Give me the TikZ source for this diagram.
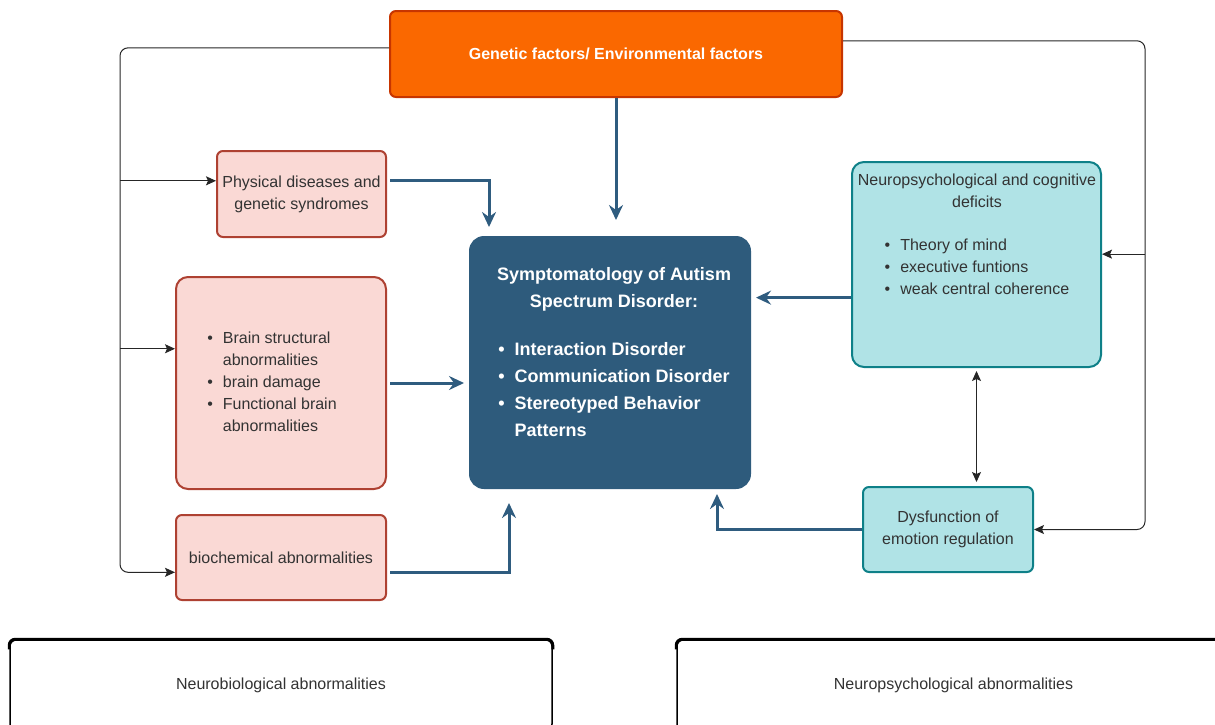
\documentclass[tikz,border=0pt]{standalone}
\usepackage{fontspec}
\setmainfont{Liberation Sans}
\usepackage{tikz}
\usetikzlibrary{calc}
\usetikzlibrary{arrows.meta}
\definecolor{genfill}{HTML}{FA6800}
\definecolor{gendraw}{HTML}{C73500}
\definecolor{bioFill}{HTML}{FAD9D5}
\definecolor{bioDraw}{HTML}{AE4132}
\definecolor{psyFill}{HTML}{B0E3E6}
\definecolor{psyDraw}{HTML}{0E8088}
\definecolor{symFill}{HTML}{2E5B7C}
\definecolor{arrBlue}{HTML}{2F5C7F}
\newcommand{\itemlist}[1]{\begin{tabular}{@{}l@{\hspace{10pt}}l@{}}#1\end{tabular}}
\newcommand{\bul}{\textbullet}

\begin{document}
\begin{tikzpicture}[x=1pt,y=-1pt,
    box/.style={draw, line width=2pt, rounded corners=6pt, inner sep=0pt, align=center,
                font=\fontsize{16}{22}\selectfont, text=black!80},
    genbox/.style={box, fill=genfill, draw=gendraw, text=white, font=\bfseries\fontsize{16}{22}\selectfont},
    biobox/.style={box, fill=bioFill, draw=bioDraw},
    psybox/.style={box, fill=psyFill, draw=psyDraw},
    symbox/.style={box, fill=symFill, draw=symFill, rounded corners=14pt},
    groupbox/.style={draw, line width=1.5pt, rounded corners=6pt, fill=white, inner sep=0pt,
                font=\fontsize{16}{22}\selectfont, text=black!80},
    boxtext/.style={align=center, inner sep=0pt, text=black!80, font=\fontsize{16}{22}\selectfont},
    thinarr/.style={draw=black!85, line width=1pt, rounded corners=8pt, -{Stealth[length=10pt,width=9pt,inset=2pt]}},
    bluearr/.style={draw=arrBlue, line width=3pt, -{Stealth[length=15pt,width=14pt,inset=5pt]}}]
    \useasboundingbox (0,0) rectangle (1215,724);

    % top
    \node[genbox, minimum width=452pt, minimum height=86pt] (gen) at (616,54) {Genetic factors/ Environmental factors};

    % left column
    \node[biobox, minimum width=169pt, minimum height=86pt] (phys) at (301.5,194) {Physical diseases and\\genetic syndromes};
    \node[biobox, rounded corners=12pt, minimum width=210pt, minimum height=212pt] (brain) at (281,383) {};
    \node[boxtext] (braintext) at (272,383)
        {\itemlist{\bul & Brain structural\\ & abnormalities\\ \bul & brain damage\\ \bul & Functional brain\\ & abnormalities}};
    \node[biobox, minimum width=210pt, minimum height=85pt] (bio) at (281,557.5) {biochemical abnormalities};

    % centre
    \node[symbox, minimum width=280pt, minimum height=251pt] (sym) at (610,362.5) {};
    \node[align=center, text=white, font=\bfseries\fontsize{18}{27}\selectfont] (symtext) at (614,356)
        {Symptomatology of Autism\\Spectrum Disorder:\\[24pt]
         \itemlist{\bul & Interaction Disorder\\ \bul & Communication Disorder\\ \bul & Stereotyped Behavior\\ & Patterns}};

    % right column
    \node[psybox, rounded corners=12pt, minimum width=249pt, minimum height=205pt] (neuro) at (976.5,264.5) {};
    \node[boxtext, anchor=north] (neurotext) at (977,174)
        {Neuropsychological and cognitive\\deficits\\[26pt]
         \itemlist{\bul & Theory of mind\\ \bul & executive funtions\\ \bul & weak central coherence}};
    \node[psybox, minimum width=170pt, minimum height=85pt] (dys) at (948,529.5) {Dysfunction of\\emotion regulation};

    % bottom
    \node[groupbox, minimum width=542pt, minimum height=90pt] (nbio) at (281,685) {Neurobiological abnormalities};
    \draw[line width=3pt, rounded corners=6pt] ($(nbio.north west)+(0,10)$) -- (nbio.north west) -- (nbio.north east) -- ($(nbio.north east)+(0,10)$);
    \node[groupbox, minimum width=553pt, minimum height=90pt] (npsy) at (953.5,685) {Neuropsychological abnormalities};
    \draw[line width=3pt, rounded corners=6pt] ($(npsy.north west)+(0,10)$) -- (npsy.north west) -- (npsy.north east) -- ($(npsy.north east)+(0,10)$);

    % thin rails
    \coordinate (lrail) at (120,0);
    \coordinate (rrail) at (1145,0);
    \coordinate (physin) at ($(phys.north west)!0.35!(phys.south west)$);
    \coordinate (brainin) at ($(brain.north west)!0.34!(brain.south west)$);
    \coordinate (bioin) at ($(bio.north west)!0.67!(bio.south west)$);
    \coordinate (neuroin) at ($(neuro.north east)!0.45!(neuro.south east)$);
    \draw[thinarr] ($(gen.north west)!0.43!(gen.south west)$) -| (lrail |- bioin) -- (bioin);
    \draw[thinarr] (lrail |- physin) -- (physin);
    \draw[thinarr] (lrail |- brainin) -- (brainin);
    \draw[thinarr] ($(gen.north east)!0.35!(gen.south east)$) -| (rrail |- dys.east) -- (dys.east);
    \draw[thinarr] (rrail |- neuroin) -- (neuroin);
    \draw[draw=black!85, line width=1pt, {Stealth[length=10pt,width=9pt,inset=2pt]}-{Stealth[length=10pt,width=9pt,inset=2pt]}, shorten <=3pt, shorten >=4pt]
        (neuro.south) -- (neuro.south |- dys.north);

    % blue arrows
    \coordinate (physout) at ($(phys.north east)!0.35!(phys.south east)+(3,0)$);
    \coordinate (bioout) at ($(bio.north east)!0.67!(bio.south east)+(3,0)$);
    \coordinate (neuroout) at ($(neuro.north west)!0.66!(neuro.south west)$);
    \draw[bluearr, shorten >=16pt] (gen.south) -- (gen.south |- sym.north);
    \draw[bluearr, shorten >=9pt] (physout) -| ($(sym.north west)+(20,0)$);
    \draw[bluearr, shorten >=5pt] ($(brain.east)+(3,0)$) -- (sym.west |- brain.east);
    \draw[bluearr, shorten >=14pt] (bioout) -| ($(sym.south west)+(40,0)$);
    \draw[bluearr, shorten >=5pt] (neuroout) -- (sym.east |- neuroout);
    \draw[bluearr, shorten >=5pt] (dys.west) -| ($(sym.south east)+(-34,0)$);
\end{tikzpicture}
\end{document}
